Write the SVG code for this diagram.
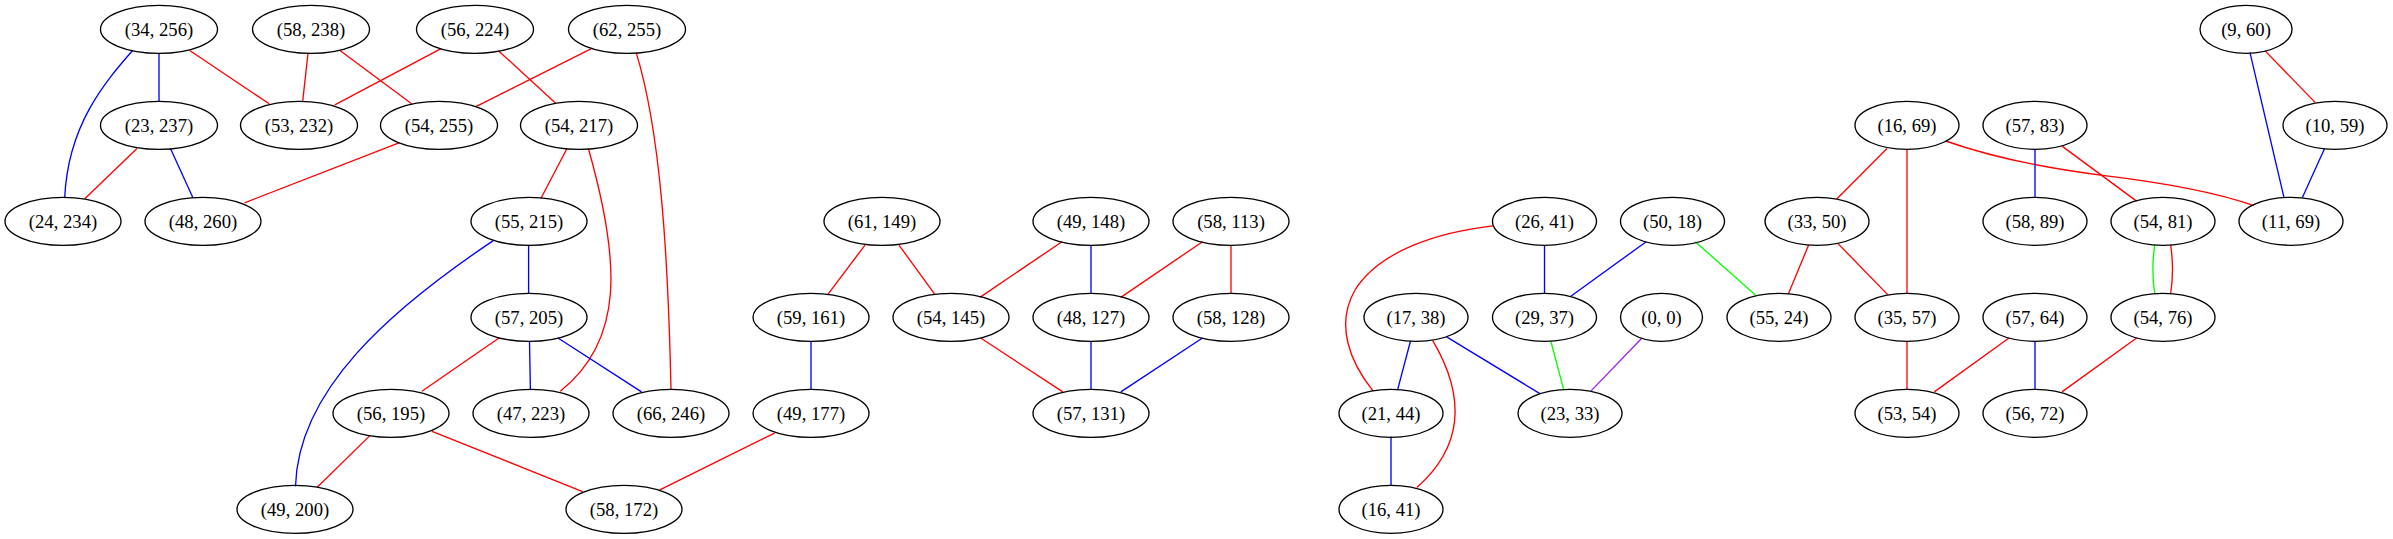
<svg xmlns="http://www.w3.org/2000/svg" width="2393" height="539" viewBox="0 0 2393 539">
<style>
.n ellipse{fill:none;stroke:#000;stroke-width:1.33}
.n text{font-family:"Liberation Serif","Times New Roman",serif;font-size:18.67px;text-anchor:middle;fill:#000}
#edges path,#edges line{fill:none;stroke-width:1.33}
.r{stroke:#ff0000}.b{stroke:#0000ff}.g{stroke:#00ff00}.p{stroke:#a020f0}
</style>
<rect width="2393" height="539" fill="#fff"/>
<g id="edges">
<line class="b" x1="159" y1="53.3" x2="159" y2="101.4"/>
<path class="b" d="M132.6,50.5 C105,82 68,125 64.7,197.7"/>
<line class="r" x1="189.7" y1="50.5" x2="269.2" y2="103.8"/>
<line class="r" x1="308" y1="53.3" x2="302.7" y2="101.4"/>
<line class="r" x1="340" y1="50.5" x2="411.6" y2="103.8"/>
<line class="r" x1="440.6" y1="48.8" x2="334.8" y2="104.8"/>
<line class="r" x1="498.7" y1="50.9" x2="555.4" y2="103.1"/>
<line class="r" x1="592.4" y1="48.1" x2="475.9" y2="106.6"/>
<path class="r" d="M636.2,52.6 C660,130 668,250 671,390.2"/>
<line class="r" x1="137" y1="148.5" x2="84.8" y2="198.7"/>
<line class="b" x1="170.5" y1="148.5" x2="192.9" y2="197.7"/>
<line class="r" x1="399.6" y1="142.7" x2="244.6" y2="202.8"/>
<line class="r" x1="567" y1="148.5" x2="541" y2="198.3"/>
<path class="r" d="M588.4,148.5 C620,260 625,340 560.3,391.2"/>
<line class="b" x1="528.6" y1="244.8" x2="528.6" y2="294"/>
<path class="b" d="M493.3,240.6 C390,310 298,390 295.5,486.4"/>
<line class="r" x1="499" y1="338" x2="421.9" y2="391.2"/>
<line class="b" x1="529.5" y1="341" x2="530.4" y2="390.2"/>
<line class="b" x1="558" y1="338" x2="641.5" y2="391.9"/>
<line class="r" x1="369.6" y1="435.9" x2="317" y2="487.5"/>
<line class="r" x1="432" y1="431.4" x2="582.6" y2="491.6"/>
<line class="r" x1="774.6" y1="433.1" x2="659.8" y2="489.9"/>
<line class="r" x1="865" y1="245.1" x2="827.7" y2="294.6"/>
<line class="r" x1="899" y1="245.1" x2="935" y2="294.6"/>
<line class="r" x1="1062" y1="241.7" x2="979.9" y2="297.4"/>
<line class="b" x1="1091" y1="245" x2="1091" y2="294"/>
<line class="r" x1="1202.5" y1="241.7" x2="1120.8" y2="297.4"/>
<line class="r" x1="1231" y1="245" x2="1231" y2="294"/>
<line class="b" x1="811" y1="341" x2="811" y2="390"/>
<line class="r" x1="980.7" y1="338" x2="1062.8" y2="391.9"/>
<line class="b" x1="1091" y1="341" x2="1091" y2="390"/>
<line class="b" x1="1202.5" y1="338" x2="1120.8" y2="391.9"/>
<path class="r" d="M1492.9,225.9 C1440,232 1380,250 1355,290 C1335,325 1350,362 1373,390.9"/>
<line class="b" x1="1544.5" y1="245" x2="1544.5" y2="294"/>
<line class="b" x1="1646.2" y1="241.7" x2="1570.8" y2="296.3"/>
<line class="g" x1="1695.3" y1="241.7" x2="1756" y2="295.6"/>
<line class="b" x1="1410.5" y1="341" x2="1397.5" y2="390.2"/>
<path class="r" d="M1432.6,340.3 C1465,395 1465,445 1416.8,487.5"/>
<line class="b" x1="1446.6" y1="336.9" x2="1539.9" y2="393.6"/>
<line class="g" x1="1550.8" y1="341" x2="1563.8" y2="390.2"/>
<line class="p" x1="1642" y1="338" x2="1591.1" y2="390.9"/>
<line class="b" x1="1391" y1="436.6" x2="1391" y2="485.4"/>
<line class="r" x1="1808.6" y1="245.1" x2="1788.3" y2="294"/>
<line class="r" x1="1837.8" y1="243.4" x2="1887.7" y2="294.6"/>
<line class="r" x1="1887" y1="148.5" x2="1837" y2="198.7"/>
<line class="r" x1="1907" y1="149" x2="1907" y2="294"/>
<path class="r" d="M1945.6,141 C2000,160 2060,170 2102.6,175.3 C2150,181 2210,190 2253.9,205.6"/>
<line class="b" x1="2035" y1="149" x2="2035" y2="198"/>
<line class="r" x1="2062" y1="146.1" x2="2136.6" y2="201.1"/>
<line class="r" x1="2265.2" y1="50.9" x2="2315.1" y2="102.4"/>
<line class="b" x1="2250" y1="52.6" x2="2284" y2="197.7"/>
<line class="b" x1="2324.6" y1="148.5" x2="2302.3" y2="197.7"/>
<path class="g" d="M2154.8,244.8 Q2151,269.4 2154.8,294"/>
<path class="r" d="M2170.6,244.8 Q2174.4,269.4 2170.6,294"/>
<line class="r" x1="1907" y1="341" x2="1907" y2="390"/>
<line class="r" x1="2009" y1="338" x2="1934.3" y2="391.9"/>
<line class="b" x1="2035" y1="341" x2="2035" y2="390"/>
<line class="r" x1="2136.6" y1="338" x2="2062" y2="391.9"/>
</g>
<g id="n34_256" class="n"><ellipse cx="159" cy="29.3" rx="58.5" ry="24"/><text x="159" y="35.5">(34, 256)</text></g>
<g id="n58_238" class="n"><ellipse cx="311" cy="29.3" rx="58.5" ry="24"/><text x="311" y="35.5">(58, 238)</text></g>
<g id="n56_224" class="n"><ellipse cx="475" cy="29.3" rx="58.5" ry="24"/><text x="475" y="35.5">(56, 224)</text></g>
<g id="n62_255" class="n"><ellipse cx="627" cy="29.3" rx="58.5" ry="24"/><text x="627" y="35.5">(62, 255)</text></g>
<g id="n9_60" class="n"><ellipse cx="2246" cy="29.3" rx="46" ry="24"/><text x="2246" y="35.5">(9, 60)</text></g>
<g id="n23_237" class="n"><ellipse cx="159" cy="125.3" rx="58.5" ry="24"/><text x="159" y="131.5">(23, 237)</text></g>
<g id="n53_232" class="n"><ellipse cx="299" cy="125.3" rx="58.5" ry="24"/><text x="299" y="131.5">(53, 232)</text></g>
<g id="n54_255" class="n"><ellipse cx="439" cy="125.3" rx="58.5" ry="24"/><text x="439" y="131.5">(54, 255)</text></g>
<g id="n54_217" class="n"><ellipse cx="579" cy="125.3" rx="58.5" ry="24"/><text x="579" y="131.5">(54, 217)</text></g>
<g id="n16_69" class="n"><ellipse cx="1907" cy="125.3" rx="52" ry="24"/><text x="1907" y="131.5">(16, 69)</text></g>
<g id="n57_83" class="n"><ellipse cx="2035" cy="125.3" rx="52" ry="24"/><text x="2035" y="131.5">(57, 83)</text></g>
<g id="n10_59" class="n"><ellipse cx="2335" cy="125.3" rx="52" ry="24"/><text x="2335" y="131.5">(10, 59)</text></g>
<g id="n24_234" class="n"><ellipse cx="63" cy="221.3" rx="58" ry="24"/><text x="63" y="227.5">(24, 234)</text></g>
<g id="n48_260" class="n"><ellipse cx="203" cy="221.3" rx="58" ry="24"/><text x="203" y="227.5">(48, 260)</text></g>
<g id="n55_215" class="n"><ellipse cx="529" cy="221.3" rx="58" ry="24"/><text x="529" y="227.5">(55, 215)</text></g>
<g id="n61_149" class="n"><ellipse cx="882" cy="221.3" rx="58" ry="24"/><text x="882" y="227.5">(61, 149)</text></g>
<g id="n49_148" class="n"><ellipse cx="1091" cy="221.3" rx="58" ry="24"/><text x="1091" y="227.5">(49, 148)</text></g>
<g id="n58_113" class="n"><ellipse cx="1231" cy="221.3" rx="58" ry="24"/><text x="1231" y="227.5">(58, 113)</text></g>
<g id="n26_41" class="n"><ellipse cx="1544.5" cy="221.3" rx="52" ry="24"/><text x="1544.5" y="227.5">(26, 41)</text></g>
<g id="n50_18" class="n"><ellipse cx="1672.5" cy="221.3" rx="52" ry="24"/><text x="1672.5" y="227.5">(50, 18)</text></g>
<g id="n33_50" class="n"><ellipse cx="1817" cy="221.3" rx="52" ry="24"/><text x="1817" y="227.5">(33, 50)</text></g>
<g id="n58_89" class="n"><ellipse cx="2035" cy="221.3" rx="52" ry="24"/><text x="2035" y="227.5">(58, 89)</text></g>
<g id="n54_81" class="n"><ellipse cx="2163" cy="221.3" rx="52" ry="24"/><text x="2163" y="227.5">(54, 81)</text></g>
<g id="n11_69" class="n"><ellipse cx="2291" cy="221.3" rx="52" ry="24"/><text x="2291" y="227.5">(11, 69)</text></g>
<g id="n57_205" class="n"><ellipse cx="529" cy="317.3" rx="58" ry="24"/><text x="529" y="323.5">(57, 205)</text></g>
<g id="n59_161" class="n"><ellipse cx="811" cy="317.3" rx="58" ry="24"/><text x="811" y="323.5">(59, 161)</text></g>
<g id="n54_145" class="n"><ellipse cx="951" cy="317.3" rx="58" ry="24"/><text x="951" y="323.5">(54, 145)</text></g>
<g id="n48_127" class="n"><ellipse cx="1091" cy="317.3" rx="58" ry="24"/><text x="1091" y="323.5">(48, 127)</text></g>
<g id="n58_128" class="n"><ellipse cx="1231" cy="317.3" rx="58" ry="24"/><text x="1231" y="323.5">(58, 128)</text></g>
<g id="n17_38" class="n"><ellipse cx="1416" cy="317.3" rx="52" ry="24"/><text x="1416" y="323.5">(17, 38)</text></g>
<g id="n29_37" class="n"><ellipse cx="1544.5" cy="317.3" rx="52" ry="24"/><text x="1544.5" y="323.5">(29, 37)</text></g>
<g id="n0_0" class="n"><ellipse cx="1661.5" cy="317.3" rx="41" ry="24"/><text x="1661.5" y="323.5">(0, 0)</text></g>
<g id="n55_24" class="n"><ellipse cx="1779" cy="317.3" rx="52" ry="24"/><text x="1779" y="323.5">(55, 24)</text></g>
<g id="n35_57" class="n"><ellipse cx="1907" cy="317.3" rx="52" ry="24"/><text x="1907" y="323.5">(35, 57)</text></g>
<g id="n57_64" class="n"><ellipse cx="2035" cy="317.3" rx="52" ry="24"/><text x="2035" y="323.5">(57, 64)</text></g>
<g id="n54_76" class="n"><ellipse cx="2163" cy="317.3" rx="52" ry="24"/><text x="2163" y="323.5">(54, 76)</text></g>
<g id="n56_195" class="n"><ellipse cx="391" cy="413.3" rx="58" ry="24"/><text x="391" y="419.5">(56, 195)</text></g>
<g id="n47_223" class="n"><ellipse cx="531" cy="413.3" rx="58" ry="24"/><text x="531" y="419.5">(47, 223)</text></g>
<g id="n66_246" class="n"><ellipse cx="671" cy="413.3" rx="58" ry="24"/><text x="671" y="419.5">(66, 246)</text></g>
<g id="n49_177" class="n"><ellipse cx="811" cy="413.3" rx="58" ry="24"/><text x="811" y="419.5">(49, 177)</text></g>
<g id="n57_131" class="n"><ellipse cx="1091" cy="413.3" rx="58" ry="24"/><text x="1091" y="419.5">(57, 131)</text></g>
<g id="n21_44" class="n"><ellipse cx="1391" cy="413.3" rx="52" ry="24"/><text x="1391" y="419.5">(21, 44)</text></g>
<g id="n23_33" class="n"><ellipse cx="1570" cy="413.3" rx="52" ry="24"/><text x="1570" y="419.5">(23, 33)</text></g>
<g id="n53_54" class="n"><ellipse cx="1907" cy="413.3" rx="52" ry="24"/><text x="1907" y="419.5">(53, 54)</text></g>
<g id="n56_72" class="n"><ellipse cx="2035" cy="413.3" rx="52" ry="24"/><text x="2035" y="419.5">(56, 72)</text></g>
<g id="n49_200" class="n"><ellipse cx="295" cy="509.3" rx="58" ry="24"/><text x="295" y="515.5">(49, 200)</text></g>
<g id="n58_172" class="n"><ellipse cx="624" cy="509.3" rx="58" ry="24"/><text x="624" y="515.5">(58, 172)</text></g>
<g id="n16_41" class="n"><ellipse cx="1391" cy="509.3" rx="52" ry="24"/><text x="1391" y="515.5">(16, 41)</text></g>
</svg>
